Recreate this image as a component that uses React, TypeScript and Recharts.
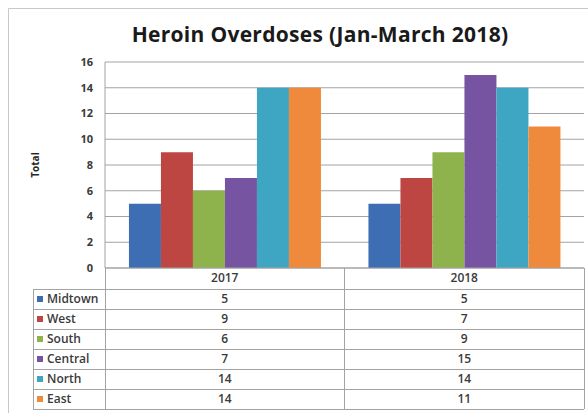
import React from 'react';
import { Bar, BarChart, CartesianGrid, XAxis, YAxis } from 'recharts';

// values (Excel chart with data table)
const years = ['2017', '2018'];
const regions = ['Midtown', 'West', 'South', 'Central', 'North', 'East'];
const midtown = [5, 5];
const west = [9, 7];
const south = [6, 9];
const central = [7, 15];
const north = [14, 14];
const east = [14, 11];
const seriesValues = [midtown, west, south, central, north, east];
const colors = ['#3d6eb4', '#be4642', '#8fb34c', '#7654a1', '#3ea6c3', '#ef8a3c'];
const yTicks = [0, 2, 4, 6, 8, 10, 12, 14, 16];

const data = years.map((year, i) => {
  const row: Record<string, string | number> = { year };
  regions.forEach((r, j) => {
    row[r] = seriesValues[j][i];
  });
  return row;
});

const W = 588;
const H = 413;
const PLOT_LEFT = 105;
const PLOT_RIGHT = 584;
const PLOT_TOP = 62;
const AXIS_Y = 268;
const HEADER_H = 21;
const ROW_H = 20;
const LABEL_LEFT = 33;
const Y_AXIS_W = 60;

const FONT = '"Open Sans", Lato, sans-serif';
const TEXT = '#3a3a3a';
const LINE = '#a3a3a3';

function DataTable() {
  const colW = (PLOT_RIGHT - PLOT_LEFT) / years.length;
  const top = AXIS_Y + HEADER_H;
  const bottom = top + ROW_H * regions.length;
  return (
    <svg
      width={W}
      height={H}
      style={{ position: 'absolute', left: 0, top: 0, pointerEvents: 'none' }}
    >
      {/* chart area border */}
      <line x1={8.5} y1={8.5} x2={W} y2={8.5} stroke="#c8c8c8" />
      <line x1={8.5} y1={8.5} x2={8.5} y2={H} stroke="#c8c8c8" />

      <text
        x={320}
        y={42}
        textAnchor="middle"
        fontFamily={FONT}
        fontWeight="bold"
        fontSize={21}
        letterSpacing={0.3}
        fill="#1a1a1a"
      >
        Heroin Overdoses (Jan-March 2018)
      </text>

      <text
        transform="translate(39,165) rotate(-90)"
        textAnchor="middle"
        fontFamily={FONT}
        fontWeight="bold"
        fontSize={10}
        fill="#262626"
      >
        Total
      </text>

      {/* table grid */}
      <g stroke={LINE} strokeWidth={1} shapeRendering="crispEdges">
        <line x1={PLOT_LEFT} y1={AXIS_Y} x2={PLOT_LEFT} y2={bottom} />
        <line x1={PLOT_RIGHT} y1={AXIS_Y} x2={PLOT_RIGHT} y2={bottom} />
        {years.slice(1).map((_, i) => (
          <line
            key={i}
            x1={PLOT_LEFT + colW * (i + 1)}
            y1={AXIS_Y}
            x2={PLOT_LEFT + colW * (i + 1)}
            y2={bottom}
          />
        ))}
        <line x1={LABEL_LEFT} y1={top} x2={LABEL_LEFT} y2={bottom} />
        {regions.map((_, i) => (
          <line key={i} x1={LABEL_LEFT} y1={top + ROW_H * i} x2={PLOT_RIGHT} y2={top + ROW_H * i} />
        ))}
        <line x1={LABEL_LEFT} y1={bottom} x2={PLOT_RIGHT} y2={bottom} />
      </g>

      {regions.map((r, i) => {
        const cy = top + ROW_H * i + ROW_H / 2;
        return (
          <g key={r}>
            <rect x={LABEL_LEFT + 4} y={cy - 3} width={6} height={6} fill={colors[i]} />
            <text
              x={LABEL_LEFT + 14}
              y={cy + 4}
              fontFamily={FONT}
              fontSize={12}
              fontWeight={600}
              fill={TEXT}
            >
              {r}
            </text>
            {years.map((_, j) => (
              <text
                key={j}
                x={PLOT_LEFT + colW * j + colW / 2}
                y={cy + 4}
                textAnchor="middle"
                fontFamily={FONT}
                fontSize={12}
                fontWeight={600}
                fill={TEXT}
              >
                {seriesValues[i][j]}
              </text>
            ))}
          </g>
        );
      })}
    </svg>
  );
}

export default function App() {
  return (
    <div
      style={{
        position: 'absolute',
        left: 0,
        top: 0,
        width: W,
        height: H,
        background: '#fff',
        overflow: 'hidden',
      }}
    >
      <BarChart
        width={W}
        height={H}
        data={data}
        margin={{
          top: PLOT_TOP,
          right: W - PLOT_RIGHT,
          bottom: H - AXIS_Y - HEADER_H,
          left: PLOT_LEFT - Y_AXIS_W,
        }}
        barCategoryGap="10%"
        barGap={0}
      >
        <CartesianGrid vertical={false} stroke={LINE} />
        <XAxis
          dataKey="year"
          height={HEADER_H}
          axisLine={{ stroke: LINE }}
          tickLine={false}
          tickSize={0}
          tickMargin={5}
          tick={{ fontFamily: FONT, fontSize: 12, fontWeight: 600, fill: TEXT }}
        />
        <YAxis
          width={Y_AXIS_W}
          domain={[0, 16]}
          ticks={yTicks}
          interval={0}
          axisLine={{ stroke: LINE }}
          tickLine={false}
          tickSize={0}
          tickMargin={12}
          tick={{ fontFamily: FONT, fontSize: 11, fill: TEXT, fontWeight: 'bold' }}
        />
        {regions.map((r, i) => (
          <Bar key={r} dataKey={r} fill={colors[i]} isAnimationActive={false} />
        ))}
      </BarChart>
      <DataTable />
    </div>
  );
}
